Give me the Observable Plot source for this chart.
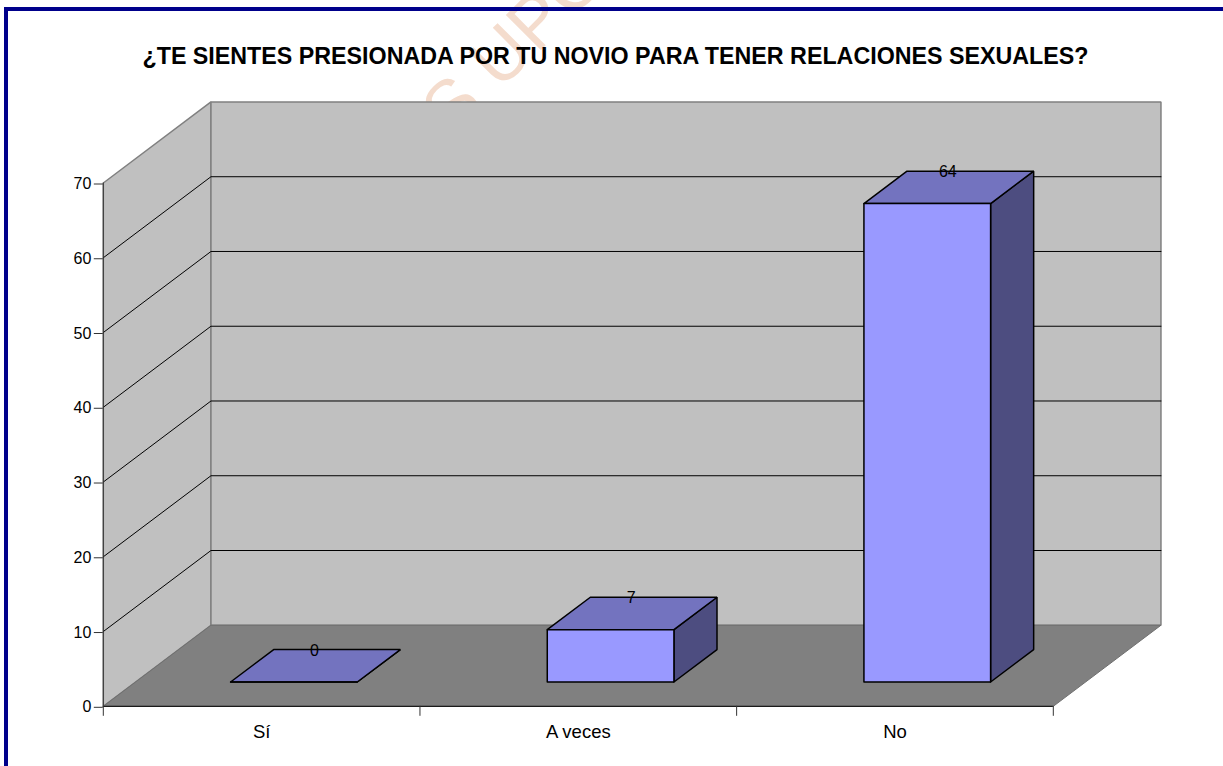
<!DOCTYPE html>
<html lang="es"><head><meta charset="utf-8">
<script src="https://cdn.jsdelivr.net/npm/d3@7"></script>
<script src="https://cdn.jsdelivr.net/npm/@observablehq/plot@0.6"></script>
<style>
html,body{margin:0;padding:0;background:#fff;overflow:hidden}
#wrap{position:relative;width:1223px;height:766px}
#wrap svg{display:block;position:absolute;left:0;top:0;background:transparent}
#title{position:absolute;left:0;top:44px;width:1231px;margin:0;text-align:center;font:bold 23.25px/24px "Liberation Sans",Arial,sans-serif;color:#000;white-space:nowrap}
</style></head><body>
<div id="wrap"><h1 id="title">¿TE SIENTES PRESIONADA POR TU NOVIO PARA TENER RELACIONES SEXUALES?</h1></div>
<script>
const categories = ["Sí", "A veces", "No"];
const values = [0, 7, 64];
const gridValues = [10, 20, 30, 40, 50, 60];
const yTicks = [0, 10, 20, 30, 40, 50, 60, 70];
const xBoundaries = [0, 1, 2, 3];
const yMax = 70;
const depthX = 0.34;   // oblique depth, in category units
const depthY = 10.84;  // oblique depth, in value units
const barStart = 0.3, barWidth = 0.4, depthFront = 0.3, depthBack = 0.7;

const P = (x, y, d) => ({x: x + depthX * d, y: y + depthY * d});
const poly = (pts, fill, stroke, strokeWidth) =>
  Plot.line([...pts, pts[0]], {x: "x", y: "y", fill, stroke, strokeWidth, strokeLinejoin: "miter", curve: "linear"});

const marks = [
  Plot.text(["TESIS UPCH"], {frameAnchor: "top-left", dx: 219, dy: 53, rotate: -45, fontSize: 72, fontWeight: "normal", fill: "#f4dccd", fontFamily: "Liberation Sans", lineAnchor: "middle"}),
  // walls and floor
  poly([P(0,0,0), P(0,0,1), P(0,yMax,1), P(0,yMax,0)], "#c0c0c0", "#808080", 1.5),
  poly([P(0,0,1), P(3,0,1), P(3,yMax,1), P(0,yMax,1)], "#c0c0c0", "#808080", 1.5),
  poly([P(0,0,0), P(3,0,0), P(3,0,1), P(0,0,1)], "#808080", "#6f6f6f", 1),
  // gridlines
  ...gridValues.map(v => Plot.line([P(0,v,0), P(0,v,1), P(3,v,1)], {x: "x", y: "y", stroke: "#000", strokeWidth: 1, curve: "linear"})),
  // bars
  ...values.flatMap((v, i) => {
    const a = i + barStart, b = a + barWidth;
    return [
      poly([P(b,0,depthFront), P(b,0,depthBack), P(b,v,depthBack), P(b,v,depthFront)], "#4d4d80", "#000", 1.5),
      poly([P(a,v,depthFront), P(b,v,depthFront), P(b,v,depthBack), P(a,v,depthBack)], "#7373bf", "#000", 1.5),
      poly([P(a,0,depthFront), P(b,0,depthFront), P(b,v,depthFront), P(a,v,depthFront)], "#9999ff", "#000", 1.5)
    ];
  }),
  // axes
  Plot.ruleY([0], {x1: 0, x2: 3, stroke: "#000", strokeWidth: 1}),
  Plot.ruleX([0], {y1: 0, y2: yMax, stroke: "#333", strokeWidth: 1}),
  Plot.axisY({ticks: yTicks, tickSize: 9, tickPadding: 3, label: null, fontSize: 16, stroke: "#333", fill: "#000", textStroke: "none", dy: 1}),
  Plot.axisX({ticks: xBoundaries, tickSize: 10, tickFormat: () => "", label: null, stroke: "#333"}),
  Plot.axisX({ticks: categories.map((_, i) => i + 0.5), tickFormat: t => categories[t - 0.5], tickSize: 0, tickPadding: 19, label: null, fontSize: 18.5, fill: "#000"}),
  // data labels
  Plot.text(values, {
    x: (_, i) => i + barStart + barWidth / 2 + depthX / 2 - 0.003,
    y: v => v + depthY * depthBack,
    dy: 1,
    text: v => String(v), fontSize: 16, fill: "#000", lineAnchor: "middle"
  })
];

const chart = Plot.plot({
  width: 1223, height: 766,
  marginLeft: 102.8, marginRight: 170.2, marginTop: 182.5, marginBottom: 60.2,
  style: {fontFamily: "'Liberation Sans', Arial, sans-serif", background: "transparent"},
  x: {type: "linear", domain: [0, 3], axis: null},
  y: {type: "linear", domain: [0, yMax], axis: null},
  marks
});
const wrap = document.getElementById("wrap");
wrap.insertBefore(chart, wrap.firstChild);

// frame of the picture
for (const [css] of [["left:4px;top:7px;width:4px;height:759px"], ["left:4px;top:7px;width:1219px;height:4px"]]) {
  const d = document.createElement("div");
  d.style.cssText = "position:absolute;background:#00008b;" + css;
  wrap.appendChild(d);
}
</script></body></html>
